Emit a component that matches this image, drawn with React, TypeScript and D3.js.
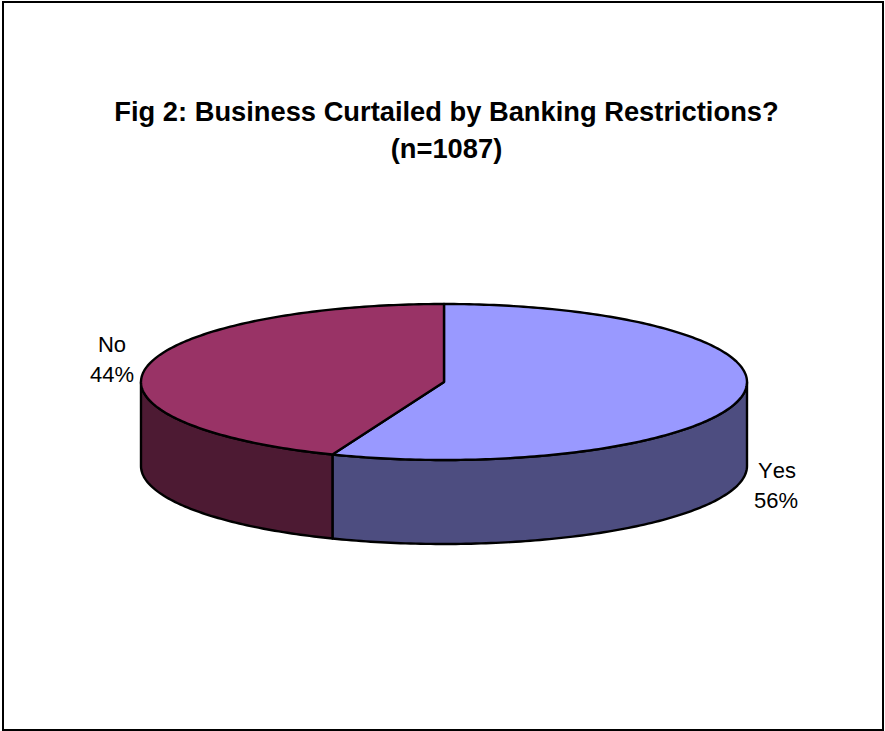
import React from "react";
import * as d3 from "d3";

const categories = ["Yes", "No"];
const shares = [56, 44];
const topColors = ["#9999ff", "#993366"];
const wallColors = ["#4d4d80", "#4d1a33"];
const titleLines = ["Fig 2: Business Curtailed by Banking Restrictions?", "(n=1087)"];

const WIDTH = 885;
const HEIGHT = 731;
const FONT = "'Liberation Sans', Arial, sans-serif";

// Pie geometry: an ellipse for the tilted top face, plus the extruded rim.
const cx = 444;
const cy = 382;
const rx = 303;
const ry = 78;
const depth = 84;
const outline = 2.4;

const pieLayout = d3.pie<number>().sort(null).value((d) => d);
const slices = pieLayout(shares);

// Angles run clockwise from 12 o'clock, as in d3.pie.
const project = (a: number, drop = 0): [number, number] => [
  cx + rx * Math.sin(a),
  cy - ry * Math.cos(a) + drop,
];

const line = d3.line();

const sample = (a0: number, a1: number, drop = 0) => {
  const n = Math.max(2, Math.ceil(Math.abs(a1 - a0) * 60));
  return d3.range(n + 1).map((i) => project(a0 + ((a1 - a0) * i) / n, drop));
};

const topPath = (a0: number, a1: number) =>
  (line([[cx, cy], ...sample(a0, a1)]) as string) + "Z";

// The rim is visible only across the front half of the ellipse.
const wallPath = (a0: number, a1: number) => {
  const from = Math.max(a0, Math.PI / 2);
  const to = Math.min(a1, (3 * Math.PI) / 2);
  if (to <= from) return null;
  return (line([...sample(from, to), ...sample(to, from, depth)]) as string) + "Z";
};

const labelPositions = [
  { x1: 777, x2: 776, y1: 478, y2: 508 },
  { x1: 112, x2: 112, y1: 352, y2: 382 },
];

export default function App() {
  return (
    <svg
      width={WIDTH}
      height={HEIGHT}
      viewBox={`0 0 ${WIDTH} ${HEIGHT}`}
      style={{ position: "absolute", left: 0, top: 0, background: "#fff" }}
    >
      <rect x={3} y={2} width={880} height={728} fill="#fff" stroke="#000" strokeWidth={2} />

      {titleLines.map((t, i) => (
        <text
          key={t}
          x={446.5}
          y={120.5 + i * 37}
          textAnchor="middle"
          fontFamily={FONT}
          fontWeight="bold"
          fontSize={27.3}
          fill="#000"
        >
          {t}
        </text>
      ))}

      {slices.map((s, i) => {
        const d = wallPath(s.startAngle, s.endAngle);
        return d ? (
          <path key={categories[i]} d={d} fill={wallColors[i]} stroke="#000" strokeWidth={outline} strokeLinejoin="round" />
        ) : null;
      })}
      {slices.map((s, i) => (
        <path
          key={categories[i]}
          d={topPath(s.startAngle, s.endAngle)}
          fill={topColors[i]}
          stroke="#000"
          strokeWidth={outline}
          strokeLinejoin="round"
        />
      ))}

      {categories.map((c, i) => (
        <g
          key={c}
          fontFamily={FONT}
          fontSize={22}
          fill="#000"
          textAnchor="middle"
          style={{ fontKerning: "none" }}
        >
          <text x={labelPositions[i].x1} y={labelPositions[i].y1}>{c}</text>
          <text x={labelPositions[i].x2} y={labelPositions[i].y2}>{shares[i]}%</text>
        </g>
      ))}
    </svg>
  );
}
